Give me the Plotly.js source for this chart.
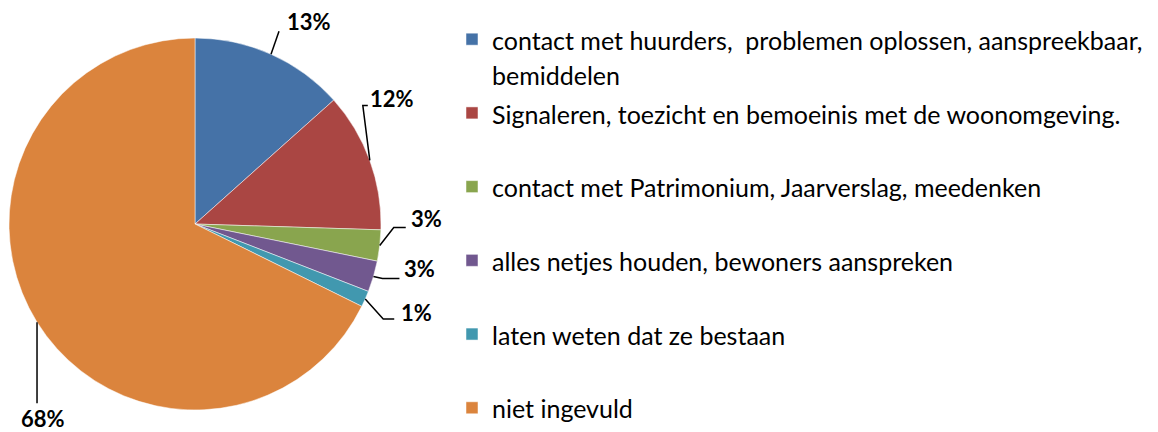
<!DOCTYPE html>
<html><head><meta charset="utf-8">
<script src="https://cdn.plot.ly/plotly-3.0.1.min.js"></script>
<style>html,body{margin:0;padding:0;background:#fff}</style>
</head><body><div id="chart" style="width:1158px;height:432px"></div>
<script>
// ---- data ----
const categories = [
  'contact met huurders,  problemen oplossen, aanspreekbaar,<br>bemiddelen',
  'Signaleren, toezicht en bemoeinis met de woonomgeving.',
  'contact met Patrimonium, Jaarverslag, meedenken',
  'alles netjes houden, bewoners aanspreken',
  'laten weten dat ze bestaan',
  'niet ingevuld'
];
const values = [13.4, 12.1, 2.7, 2.7, 1.4, 67.7];
const colors = ['#4572A7', '#AA4643', '#89A54E', '#71588F', '#4198AF', '#DB843D'];

// ---- layout geometry ----
const W = 1158, H = 432;
const domainX = [9 / W, 381 / W];
const domainY = [(H - 410) / H, (H - 38) / H];
const cx = (domainX[0] + domainX[1]) / 2 * W;
const cy = H - (domainY[0] + domainY[1]) / 2 * H;
const R = Math.min((domainX[1] - domainX[0]) * W, (domainY[1] - domainY[0]) * H) / 2;

// leader line styling per slice: elbow offset from slice edge, tail length, label offset from tail end
const leaders = [
  {ex: 8,  ey: -23, tail: 0,  lx: 6,  ly: -10, anchor: 'left'},
  {ex: -7, ey: -55, tail: 5,  lx: 0,  ly: -7,  anchor: 'left'},
  {ex: 14, ey: -18, tail: 12, lx: 3,  ly: -9,  anchor: 'left'},
  {ex: 9,  ey: 2,   tail: 17, lx: 3,  ly: -10, anchor: 'left'},
  {ex: 18, ey: 20,  tail: 11, lx: 5,  ly: -6,  anchor: 'left'},
  {ex: 0,  ey: 81,  tail: 0,  lx: 6,  ly: 15,  anchor: 'center'}
];

const total = values.reduce((a, b) => a + b, 0);
const px = x => x / W, py = y => 1 - y / H;
const shapes = [], annotations = [];
let cum = 0;
values.forEach((v, i) => {
  const mid = (cum + v / 2) / total * 2 * Math.PI;
  cum += v;
  const x0 = cx + R * Math.sin(mid), y0 = cy - R * Math.cos(mid);
  const L = leaders[i];
  const x1 = x0 + L.ex, y1 = y0 + L.ey;
  const x2 = x1 + L.tail, y2 = y1;
  shapes.push({
    type: 'path', xref: 'paper', yref: 'paper',
    path: `M${px(x0)},${py(y0)} L${px(x1)},${py(y1)} L${px(x2)},${py(y2)}`,
    line: {color: '#000', width: 1.5}
  });
  annotations.push({
    xref: 'paper', yref: 'paper', showarrow: false,
    x: px(x2 + L.lx), y: py(y2 + L.ly), xanchor: L.anchor, yanchor: 'middle',
    text: '<b>' + Math.round(v / total * 100) + '%</b>',
    font: {family: 'Lato, sans-serif', size: 22, color: '#000'}
  });
});

// legend text: visible size 25px, line pitch from legend font size
const pad = '<br>\u00a0';
const legendLabels = categories.map((c, i) => {
  const t = c.split('<br>').map(s => '<span style="font-size:25px">' + s + '</span>').join('<br>');
  return (c.includes('<br>') || i === categories.length - 1) ? t : t + pad;
});

const trace = {
  type: 'pie',
  labels: legendLabels,
  values: values,
  sort: false,
  direction: 'clockwise',
  rotation: 0,
  textinfo: 'none',
  hoverinfo: 'none',
  marker: {colors: colors, line: {color: '#ffffff', width: 0.5}},
  domain: {x: domainX, y: domainY}
};

const layout = {
  width: W, height: H,
  margin: {l: 0, r: 0, t: 0, b: 0},
  paper_bgcolor: '#fff',
  showlegend: true,
  legend: {
    x: 452 / W, y: 1 - 38 / H, xanchor: 'left', yanchor: 'top',
    valign: 'top',
    font: {family: 'Lato, sans-serif', size: 27.2, color: '#000'},
    bgcolor: 'rgba(0,0,0,0)'
  },
  shapes: shapes,
  annotations: annotations
};

Plotly.newPlot('chart', [trace], layout, {displayModeBar: false, staticPlot: true});
</script>
</body></html>
